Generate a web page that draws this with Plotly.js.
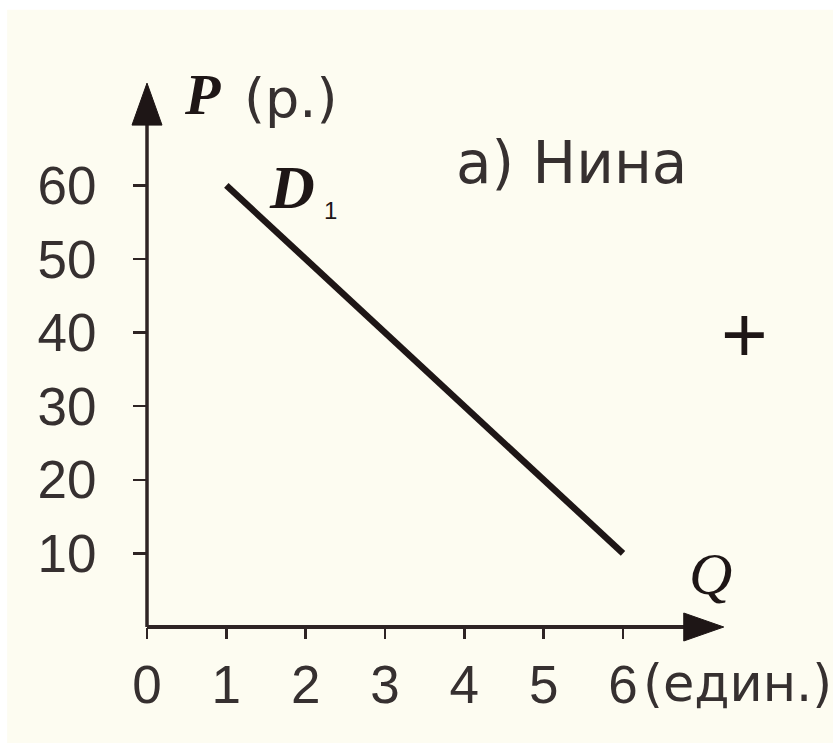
<!DOCTYPE html>
<html>
<head>
<meta charset="utf-8">
<script src="https://cdn.plot.ly/plotly-3.0.1.min.js"></script>
<style>html,body{margin:0;padding:0;background:#ffffff;}#chart{width:833px;height:743px;}</style>
</head>
<body>
<div id="chart"></div>
<script>
// Demand curve D1 for Nina
const quantity = [1, 6];
const price = [60, 10];
const xTickVals = [0, 1, 2, 3, 4, 5, 6];
const xTickText = ['0', '1', '2', '3', '4', '5', '6'];
const yTickVals = [10, 20, 30, 40, 50, 60];
const yTickText = ['10', '20', '30', '40', '50', '60'];
const panelTitle = 'а) Нина';
const curveName = 'D';
const curveSub = '1';
const xAxisName = 'Q';
const xAxisUnit = '(един.)';
const yAxisName = 'P';
const yAxisUnit = '(р.)';

const ink = '#1e1616';
const axisInk = '#2e2424';
const textInk = '#363030';
const bg = '#fdfcf1';

const trace = {
  x: quantity, y: price, type: 'scatter', mode: 'lines',
  line: {color: ink, width: 6.5}, hoverinfo: 'skip', showlegend: false
};

const sans = 'DejaVu Sans, Liberation Sans, Arial, sans-serif';
const digits = 'Liberation Sans, Arial, sans-serif';
const serif = 'Liberation Serif, Times New Roman, serif';

const XMAX = 7.5, YMAX = 75;

const layout = {
  width: 833, height: 743,
  margin: {l: 147, r: 91, t: 75, b: 116, pad: 0},
  paper_bgcolor: '#ffffff', plot_bgcolor: 'rgba(0,0,0,0)',
  showlegend: false,
  xaxis: {
    range: [0, XMAX], tickvals: xTickVals, ticktext: xTickText,
    showgrid: false, zeroline: false, showline: false,
    ticks: 'outside', ticklen: 11, tickwidth: 2.5, tickcolor: axisInk,
    ticklabelstandoff: 0,
    tickfont: {family: digits, size: 53, color: textInk}, fixedrange: true
  },
  yaxis: {
    range: [0, YMAX], tickvals: yTickVals, ticktext: yTickText,
    showgrid: false, zeroline: false, showline: false,
    ticks: 'outside', ticklen: 13, tickwidth: 2.5, tickcolor: axisInk,
    ticklabelstandoff: 26,
    tickfont: {family: digits, size: 53, color: textInk}, fixedrange: true
  },
  shapes: [
    {type: 'rect', xref: 'paper', yref: 'paper', x0: -0.235, x1: 1.2, y0: -0.23, y1: 1.118,
     fillcolor: bg, line: {width: 0}, layer: 'below'},
    {type: 'line', xref: 'paper', yref: 'paper', x0: 0, y0: 0, x1: 7.0 / XMAX, y1: 0,
     line: {color: axisInk, width: 4}},
    {type: 'line', xref: 'paper', yref: 'paper', x0: 0, y0: 0, x1: 0, y1: 70 / YMAX,
     line: {color: axisInk, width: 3.5}},
    {type: 'path', xref: 'paper', yref: 'paper', xsizemode: 'pixel', ysizemode: 'pixel',
     xanchor: 7.27 / XMAX, yanchor: 0, path: 'M 0 0 L -40 14 L -40 -14 Z',
     fillcolor: ink, line: {color: ink, width: 1}},
    {type: 'path', xref: 'paper', yref: 'paper', xsizemode: 'pixel', ysizemode: 'pixel',
     xanchor: 0, yanchor: 73.9 / YMAX, path: 'M 0 0 L -15 -42 L 15 -42 Z',
     fillcolor: ink, line: {color: ink, width: 1}}
  ],
  annotations: [
    {xref: 'x', yref: 'y', x: 0.7, y: 72.4, text: '<b><i>' + yAxisName + '</i></b>', showarrow: false,
     font: {family: serif, size: 58, color: ink}, xanchor: 'center', yanchor: 'middle'},
    {xref: 'x', yref: 'y', x: 1.82, y: 71.8, text: yAxisUnit, showarrow: false,
     font: {family: sans, size: 54, color: textInk}, xanchor: 'center', yanchor: 'middle'},
    {xref: 'x', yref: 'y', x: 1.83, y: 59.8, text: '<b><i>' + curveName + '</i></b>', showarrow: false,
     font: {family: serif, size: 62, color: ink}, xanchor: 'center', yanchor: 'middle'},
    {xref: 'x', yref: 'y', x: 2.31, y: 56.6, text: curveSub, showarrow: false,
     font: {family: digits, size: 24, color: ink}, xanchor: 'center', yanchor: 'middle'},
    {xref: 'x', yref: 'y', x: 5.35, y: 63.0, text: panelTitle, showarrow: false,
     font: {family: sans, size: 58, color: textInk}, xanchor: 'center', yanchor: 'middle'},
    {xref: 'x', yref: 'y', x: 7.1, y: 7.2, text: '<i>' + xAxisName + '</i>', showarrow: false,
     font: {family: serif, size: 60, color: ink}, xanchor: 'center', yanchor: 'middle'},
    {xref: 'paper', yref: 'paper', x: 0.83, y: -0.102, text: xAxisUnit, showarrow: false,
     font: {family: sans, size: 51, color: textInk}, xanchor: 'left', yanchor: 'middle'},
    {xref: 'paper', yref: 'paper', x: 1.004, y: 0.53, text: '+', showarrow: false,
     font: {family: digits, size: 80, color: ink}, xanchor: 'center', yanchor: 'middle'}
  ]
};

Plotly.newPlot('chart', [trace], layout, {staticPlot: true, displayModeBar: false});
</script>
</body>
</html>
